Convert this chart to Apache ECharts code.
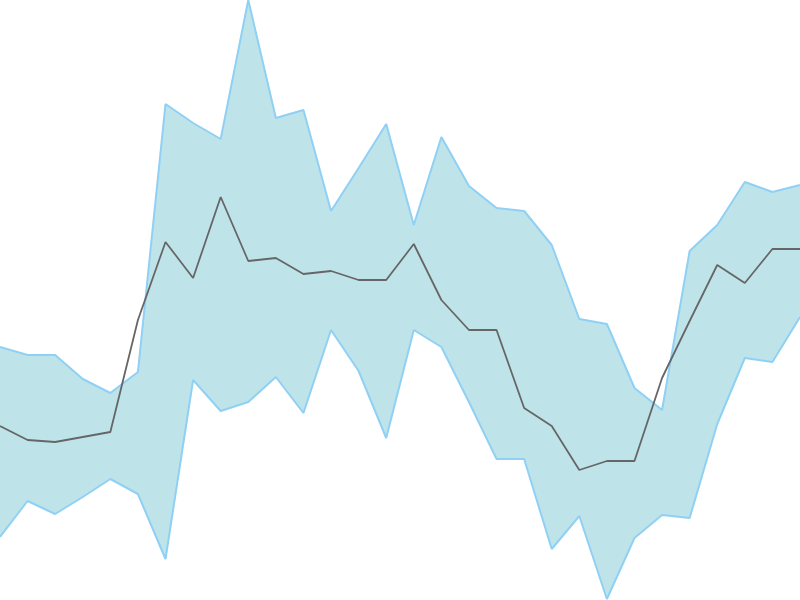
<!DOCTYPE html>
<html>
<head>
<meta charset="utf-8">
<script src="https://cdn.jsdelivr.net/npm/echarts@6/dist/echarts.min.js"></script>
<style>html,body{margin:0;padding:0;background:#fff}#c{width:800px;height:600px}</style>
</head>
<body>
<div id="c"></div>
<script>
var categories = [];
for (var i = 1; i <= 30; i++) categories.push('P' + i);
var meanValues = [17.4, 16.0, 15.8, 16.3, 16.8, 28.0, 35.8, 32.2, 40.3, 33.9, 34.2, 32.6, 32.9, 32.0, 32.0, 35.6, 30.0, 27.0, 27.0, 19.2, 17.4, 13.0, 13.9, 13.9, 22.2, 27.9, 33.5, 31.7, 35.1, 35.1];
var upperValues = [25.3, 24.5, 24.5, 22.1, 20.7, 22.8, 49.6, 47.7, 46.1, 60.0, 48.2, 49.0, 38.9, 43.2, 47.6, 37.5, 46.3, 41.4, 39.2, 38.9, 35.5, 28.1, 27.6, 21.2, 19.0, 34.9, 37.5, 41.8, 40.8, 41.5];
var lowerValues = [6.3, 9.9, 8.6, 10.3, 12.1, 10.6, 4.1, 22.0, 18.9, 19.8, 22.3, 18.7, 27.0, 22.9, 16.2, 27.0, 25.3, 19.8, 14.1, 14.1, 5.1, 8.4, 0.1, 6.2, 8.5, 8.2, 17.6, 24.2, 23.8, 28.3];

var bandDiff = upperValues.map(function (u, i) { return +(u - lowerValues[i]).toFixed(2); });

var chart = echarts.init(document.getElementById('c'));
chart.setOption({
  animation: false,
  grid: { left: 0, right: 0, top: 0, bottom: 0 },
  xAxis: { type: 'category', data: categories, boundaryGap: false, show: false },
  yAxis: { type: 'value', min: 0, max: 60, show: false },
  series: [
    { type: 'line', data: lowerValues, stack: 'band', showSymbol: false, lineStyle: { opacity: 0 }, z: 1 },
    { type: 'line', data: bandDiff, stack: 'band', showSymbol: false, lineStyle: { opacity: 0 },
      areaStyle: { color: '#bee4ea', opacity: 1 }, z: 1 },
    { type: 'line', data: upperValues, showSymbol: false, lineStyle: { color: '#8fd0f4', width: 2 }, z: 2 },
    { type: 'line', data: lowerValues, showSymbol: false, lineStyle: { color: '#8fd0f4', width: 2 }, z: 2 },
    { type: 'line', data: meanValues, showSymbol: false, lineStyle: { color: '#666666', width: 1.8 }, z: 3 }
  ]
});
</script>
</body>
</html>
